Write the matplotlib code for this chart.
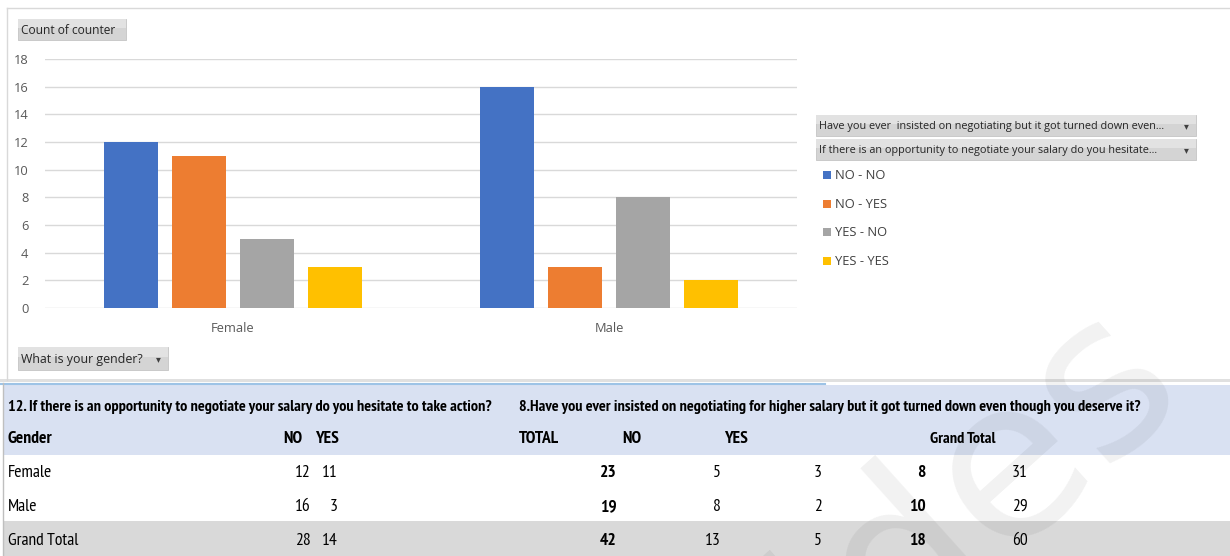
import numpy as np
import matplotlib
matplotlib.use('Agg')
import matplotlib.pyplot as plt
from matplotlib.patches import Rectangle

# data
genders = ['Female', 'Male']
series = ['NO - NO', 'NO - YES', 'YES - NO', 'YES - YES']
counts = [[12, 16], [11, 3], [5, 8], [3, 2]]
colors = ['#4472C4', '#ED7D31', '#A5A5A5', '#FFC000']

q12_title = '12. If there is an opportunity to negotiate your salary do you hesitate to take action?'
q8_title = '8.Have you ever insisted on negotiating for higher salary but it got turned down even though you deserve it?'
legend_btn1 = 'Have you ever  insisted on negotiating but it got turned down even...'
legend_btn2 = 'If there is an opportunity to negotiate your salary do you hesitate...'

W, H = 1230, 556
fig = plt.figure(figsize=(W / 100, H / 100), dpi=100)

# background axes in pixel coordinates (y down)
bg = fig.add_axes([0, 0, 1, 1])
bg.set_xlim(0, W)
bg.set_ylim(H, 0)
bg.axis('off')

chart_font = ['Open Sans', 'DejaVu Sans']
table_font = ['PT Sans Narrow', 'DejaVu Sans']

# chart frame
bg.plot([7, 7], [8, 380], color='#D9D9D9', lw=1)
bg.plot([7, W], [8, 8], color='#D9D9D9', lw=1)
bg.add_patch(Rectangle((0, 379), W, 3, color='#E0E0E0', lw=0))
bg.plot([0, 825], [383.5, 383.5], color='#9DC3E6', lw=1.5)


def button(x0, y0, x1, y1, text, fsize, arrow=False):
    bg.add_patch(Rectangle((x0, y0), x1 - x0, y1 - y0, facecolor='#D4D4D4',
                           edgecolor='#C4C4C4', lw=0.6))
    bg.add_patch(Rectangle((x0, y0), x1 - x0, (y1 - y0) * 0.45, facecolor='#E2E2E2', lw=0))
    bg.text(x0 + 3, (y0 + y1) / 2 + 0.5, text, fontsize=fsize, color='#262626',
            va='center', ha='left', family=chart_font)
    if arrow:
        bg.text(x1 - 10, (y0 + y1) / 2 + 0.5, '\u25be', fontsize=7, color='#404040',
                va='center', ha='center', family=['DejaVu Sans'])


button(18, 19, 126, 40, 'Count of counter', 8.6)
button(18, 347, 168, 370, 'What is your gender?', 8.9, arrow=True)
button(816, 115, 1196, 136, legend_btn1, 7.8, arrow=True)
button(816, 139, 1196, 160, legend_btn2, 7.8, arrow=True)

# legend entries
leg_y = [175, 204, 232, 261]
for name, col, yy in zip(series, colors, leg_y):
    bg.add_patch(Rectangle((823, yy - 4), 8, 8, color=col, lw=0))
    bg.text(835, yy + 0.5, name, fontsize=9.3, color='#404040', va='center',
            ha='left', family=chart_font)

# table bands
bg.add_patch(Rectangle((4, 385), W - 4, 70, color='#D9E1F2', lw=0))
bg.add_patch(Rectangle((4, 521), W - 4, 35, color='#D9D9D9', lw=0))
bg.plot([3, 3], [383, H], color='#BFBFBF', lw=1)

fs = 11.6
fs_row = 12.6
bg.text(8, 407, q12_title, fontsize=fs, fontweight='bold', va='center', family=table_font)
bg.text(519, 407, q8_title, fontsize=fs, fontweight='bold', va='center', family=table_font)
row2_y = 439
bg.text(8, row2_y, 'Gender', fontsize=fs_row, fontweight='bold', va='center', family=table_font)
bg.text(302, row2_y, 'NO', fontsize=fs_row, fontweight='bold', va='center', ha='right', family=table_font)
bg.text(315, row2_y, 'YES', fontsize=fs_row, fontweight='bold', va='center', family=table_font)
bg.text(519, row2_y, 'TOTAL', fontsize=fs_row, fontweight='bold', va='center', family=table_font)
bg.text(622, row2_y, 'NO', fontsize=fs_row, fontweight='bold', va='center', family=table_font)
bg.text(724, row2_y, 'YES', fontsize=fs_row, fontweight='bold', va='center', family=table_font)
bg.text(930, row2_y, 'Grand Total', fontsize=fs, fontweight='bold', va='center', family=table_font)

c = np.array(counts)
no_tot = c[0] + c[1]
yes_tot = c[2] + c[3]
row_labels = genders + ['Grand Total']
col_vals = [
    (list(c[0]) + [c[0].sum()], 311, 'normal'),
    (list(c[1]) + [c[1].sum()], 338, 'normal'),
    (list(no_tot) + [no_tot.sum()], 617, 'bold'),
    (list(c[2]) + [c[2].sum()], 721, 'normal'),
    (list(c[3]) + [c[3].sum()], 822, 'normal'),
    (list(yes_tot) + [yes_tot.sum()], 926, 'bold'),
    (list(no_tot + yes_tot) + [(no_tot + yes_tot).sum()], 1028, 'normal'),
]
row_y = [473, 507, 541]
for lab, yy in zip(row_labels, row_y):
    bg.text(8, yy, lab, fontsize=fs_row, va='center', family=table_font)
for vals, xr, wt in col_vals:
    for v, yy in zip(vals, row_y):
        bg.text(xr, yy, str(v), fontsize=fs_row, fontweight=wt, va='center', ha='right',
                family=table_font)

# watermark
bg.text(975, 490, 'ides', fontsize=160, color='black', alpha=0.055, rotation=42,
        ha='center', va='center', family=['DejaVu Sans'], zorder=10, clip_on=True)

# bar chart
ax = fig.add_axes([45 / W, (H - 308) / H, (797 - 45) / W, (308 - 59) / H])
ax.set_facecolor('none')
x = np.arange(len(genders))
bw = 0.1436
step = 0.181
for i, (name, col) in enumerate(zip(series, colors)):
    ax.bar(x + (i - 1.5) * step, counts[i], width=bw, color=col, zorder=3, label=name)
ax.set_xlim(-0.5, 1.5)
ax.set_ylim(0, 18)
ax.set_yticks(range(0, 19, 2))
ax.grid(axis='y', color='#D9D9D9', lw=1, zorder=0)
for s in ax.spines.values():
    s.set_visible(False)
ax.tick_params(axis='both', length=0, labelsize=9.3, labelcolor='#595959')
ax.tick_params(axis='y', pad=12)
ax.tick_params(axis='x', pad=10)
ax.set_xticks(x)
ax.set_xticklabels(genders, family=chart_font)
for t in ax.get_yticklabels():
    t.set_family(chart_font)

fig.savefig('out.png', dpi=100)
